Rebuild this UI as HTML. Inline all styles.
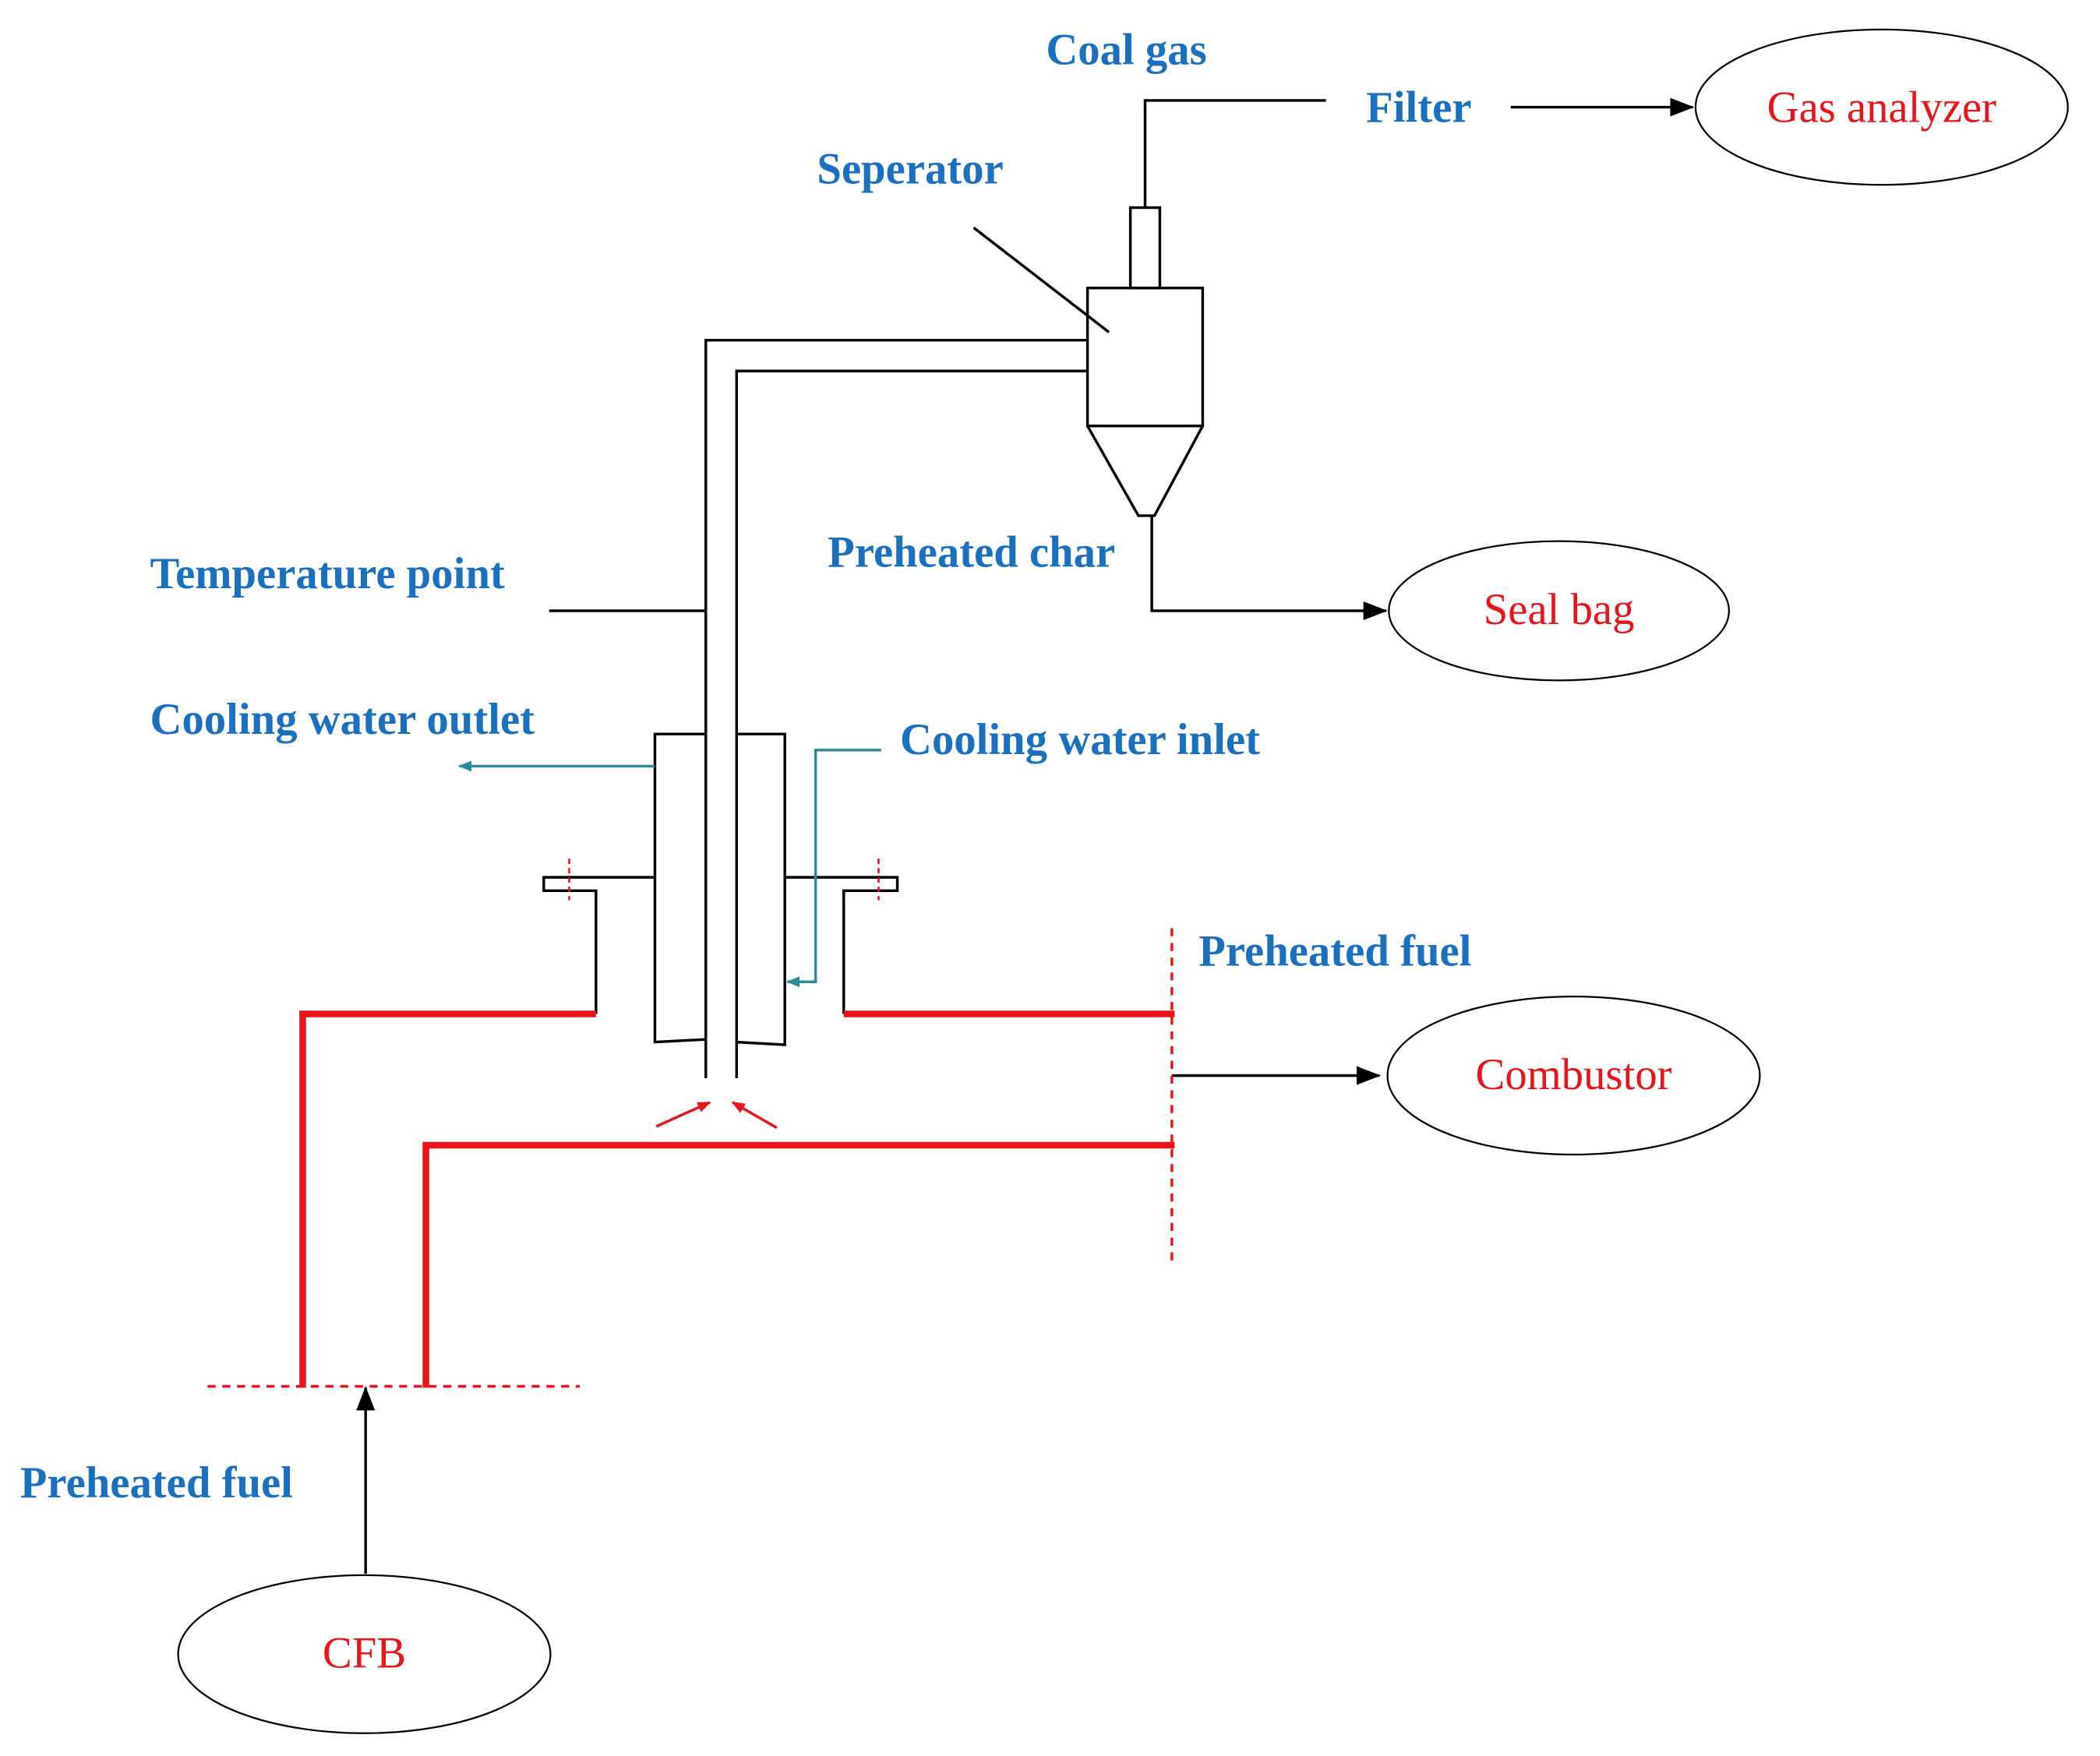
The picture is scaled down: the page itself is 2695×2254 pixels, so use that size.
<!DOCTYPE html>
<html><head><meta charset="utf-8"><style>
html,body{margin:0;padding:0;background:#fff;}
svg{display:block;}
.b{font-family:"Liberation Serif",serif;font-weight:bold;font-size:33px;fill:#1a6fbf;}
.r{font-family:"Liberation Serif",serif;font-size:33px;fill:#e8141a;}
</style></head><body>
<svg width="2695" height="2254" viewBox="0 0 1568 1311" preserveAspectRatio="none" xmlns="http://www.w3.org/2000/svg">
<defs>
<marker id="akl" markerWidth="18" markerHeight="14" refX="17" refY="7" orient="auto" markerUnits="userSpaceOnUse"><path d="M0,0 L18,7 L0,14 Z" fill="#000"/></marker>
<marker id="at" markerWidth="10" markerHeight="8" refX="9" refY="4" orient="auto" markerUnits="userSpaceOnUse"><path d="M0,0 L10,4 L0,8 Z" fill="#2a8a9a"/></marker>
<marker id="ar" markerWidth="10" markerHeight="8" refX="9" refY="4" orient="auto" markerUnits="userSpaceOnUse"><path d="M0,0 L10,4 L0,8 Z" fill="#e8141a"/></marker>
</defs>
<g fill="none" stroke="#000" stroke-width="2">
<polyline points="855,155 855,75 990,75"/>
<line x1="1128" y1="80" x2="1264" y2="80" marker-end="url(#akl)"/>
<ellipse cx="1405" cy="80" rx="139" ry="58" stroke-width="1.3"/>
<line x1="727" y1="170" x2="828" y2="248"/>
<rect x="844" y="155" width="22" height="60"/>
<rect x="812" y="215" width="86" height="103"/>
<polyline points="812,318 850,385 862,385 898,318"/>
<polyline points="812,254 527,254 527,805"/>
<polyline points="812,277 550,277 550,805"/>
<polyline points="860,385 860,456 1035,456" marker-end="url(#akl)"/>
<ellipse cx="1164" cy="456" rx="127" ry="52" stroke-width="1.3"/>
<line x1="410" y1="456" x2="527" y2="456"/>
<polyline points="527,548 489,548 489,778 527,776"/>
<polyline points="550,548 586,548 586,780 550,778"/>
<polyline points="489,655 406,655 406,665 445,665 445,757"/>
<polyline points="586,655 670,655 670,665 630,665 630,757"/>
<line x1="875" y1="803" x2="1030" y2="803" marker-end="url(#akl)"/>
<ellipse cx="1175" cy="803" rx="139" ry="59" stroke-width="1.3"/>
<line x1="273" y1="1175" x2="273" y2="1036" marker-end="url(#akl)"/>
<ellipse cx="272" cy="1235" rx="139" ry="59" stroke-width="1.3"/>
</g>
<g fill="none" stroke="#2a8a9a" stroke-width="2">
<line x1="489" y1="572" x2="343" y2="572" marker-end="url(#at)"/>
<polyline points="658,560 609,560 609,733 588,733" marker-end="url(#at)"/>
</g>
<g fill="none" stroke="#e8141a">
<polyline points="445,757 226,757 226,1036" stroke-width="5"/>
<line x1="630" y1="757" x2="877" y2="757" stroke-width="5"/>
<polyline points="877,855 318,855 318,1036" stroke-width="5"/>
<line x1="875" y1="693" x2="875" y2="945" stroke-width="2" stroke-dasharray="6,5"/>
<line x1="155" y1="1035" x2="433" y2="1035" stroke-width="2" stroke-dasharray="6,5"/>
<line x1="425" y1="641" x2="425" y2="672" stroke-width="1.5" stroke-dasharray="4,3"/>
<line x1="656" y1="641" x2="656" y2="672" stroke-width="1.5" stroke-dasharray="4,3"/>
<line x1="490" y1="841" x2="530" y2="823" stroke-width="2" marker-end="url(#ar)"/>
<line x1="580" y1="842" x2="547" y2="823" stroke-width="2" marker-end="url(#ar)"/>
</g>
<text class="b" x="781" y="48">Coal gas</text>
<text class="b" x="1020" y="91">Filter</text>
<text class="b" x="610" y="137">Seperator</text>
<text class="b" x="618" y="423">Preheated char</text>
<text class="b" x="112" y="439">Temperature point</text>
<text class="b" x="112" y="548">Cooling water outlet</text>
<text class="b" x="672" y="563">Cooling water inlet</text>
<text class="b" x="895" y="721">Preheated fuel</text>
<text class="b" x="15" y="1118">Preheated fuel</text>
<text class="r" x="1405" y="91" text-anchor="middle">Gas analyzer</text>
<text class="r" x="1164" y="466" text-anchor="middle">Seal bag</text>
<text class="r" x="1175" y="813" text-anchor="middle">Combustor</text>
<text class="r" x="272" y="1245" text-anchor="middle">CFB</text>
</svg>
</body></html>
